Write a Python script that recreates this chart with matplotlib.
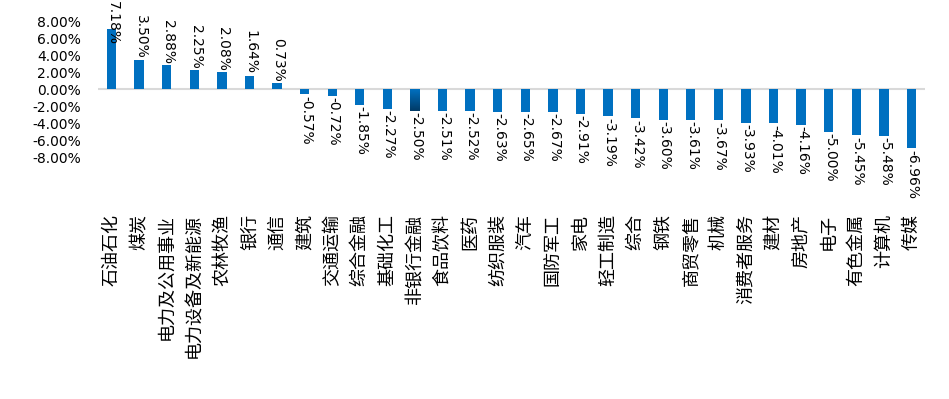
import matplotlib
matplotlib.use('Agg')
import matplotlib.pyplot as plt
import numpy as np
from matplotlib.colors import LinearSegmentedColormap
from matplotlib.ticker import FixedLocator, FuncFormatter

plt.rcParams['font.family'] = ['Noto Sans CJK SC', 'DejaVu Sans']

BAR_COLOR = '#0070C0'
ZERO_COLOR = '#D9D9D9'

industries = ['石油石化', '煤炭', '电力及公用事业', '电力设备及新能源', '农林牧渔', '银行', '通信',
              '建筑', '交通运输', '综合金融', '基础化工', '非银行金融', '食品饮料', '医药',
              '纺织服装', '汽车', '国防军工', '家电', '轻工制造', '综合', '钢铁', '商贸零售',
              '机械', '消费者服务', '建材', '房地产', '电子', '有色金属', '计算机', '传媒']
returns = [7.18, 3.50, 2.88, 2.25, 2.08, 1.64, 0.73,
           -0.57, -0.72, -1.85, -2.27, -2.50, -2.51, -2.52,
           -2.63, -2.65, -2.67, -2.91, -3.19, -3.42, -3.60, -3.61,
           -3.67, -3.93, -4.01, -4.16, -5.00, -5.45, -5.48, -6.96]
yticks = [-8, -6, -4, -2, 0, 2, 4, 6, 8]
gradient_bar = '非银行金融'  # this one is drawn with a shaded fill in the source

fig = plt.figure(figsize=(9.49, 3.99), dpi=100)
ax = fig.add_axes([0.103, 0.6065, 0.872, 0.3385])

x = list(range(len(industries)))
bars = ax.bar(x, returns, width=0.34, color=BAR_COLOR, zorder=2)
ax.axhline(0, color=ZERO_COLOR, lw=1.5, zorder=1)

# shaded bar
shade = LinearSegmentedColormap.from_list('shade', ['#003A66', BAR_COLOR])
p = bars[industries.index(gradient_bar)]
x0, y0, w, h = p.get_x(), p.get_y(), p.get_width(), p.get_height()
grad = np.linspace(0, 1, 64).reshape(-1, 1)
ax.imshow(grad, cmap=shade, aspect='auto', origin='lower',
          extent=(x0, x0 + w, y0 + h, y0), zorder=3)

labels = []
for xi, v in zip(x, returns):
    t = ax.annotate(f'{v:.2f}%', (xi, v), xytext=(1, 1 if v >= 0 else -1),
                    textcoords='offset points', rotation=270,
                    ha='center', va='bottom' if v >= 0 else 'top',
                    fontsize=10, family='DejaVu Sans', annotation_clip=False, zorder=4)
    labels.append(t)

ax.set_xlim(-0.5, len(industries) - 0.5)
ax.set_ylim(-8, 8)
ax.yaxis.set_major_locator(FixedLocator(yticks))
ax.yaxis.set_major_formatter(FuncFormatter(lambda v, p: f'{v:.2f}%'))
for lab in ax.get_yticklabels():
    lab.set_family('DejaVu Sans')
ax.tick_params(axis='y', length=0, pad=12, labelsize=10)

ax.set_xticks(x)
ax.set_xticklabels(industries, rotation=90, ha='center', va='top', fontsize=13)
ax.tick_params(axis='x', length=0, pad=41)

for s in ax.spines.values():
    s.set_visible(False)
ax.grid(False)

# push labels that run off the top back inside the figure (like Excel does)
fig.canvas.draw()
r = fig.canvas.get_renderer()
fig_h = fig.bbox.height
for t in labels:
    bb = t.get_window_extent(r)
    if bb.y1 > fig_h:
        shift = (bb.y1 - fig_h + 1) * 72 / fig.dpi
        ox, oy = t.xyann
        t.xyann = (ox, oy - shift)

fig.savefig('out.png', dpi=100, facecolor='white')
